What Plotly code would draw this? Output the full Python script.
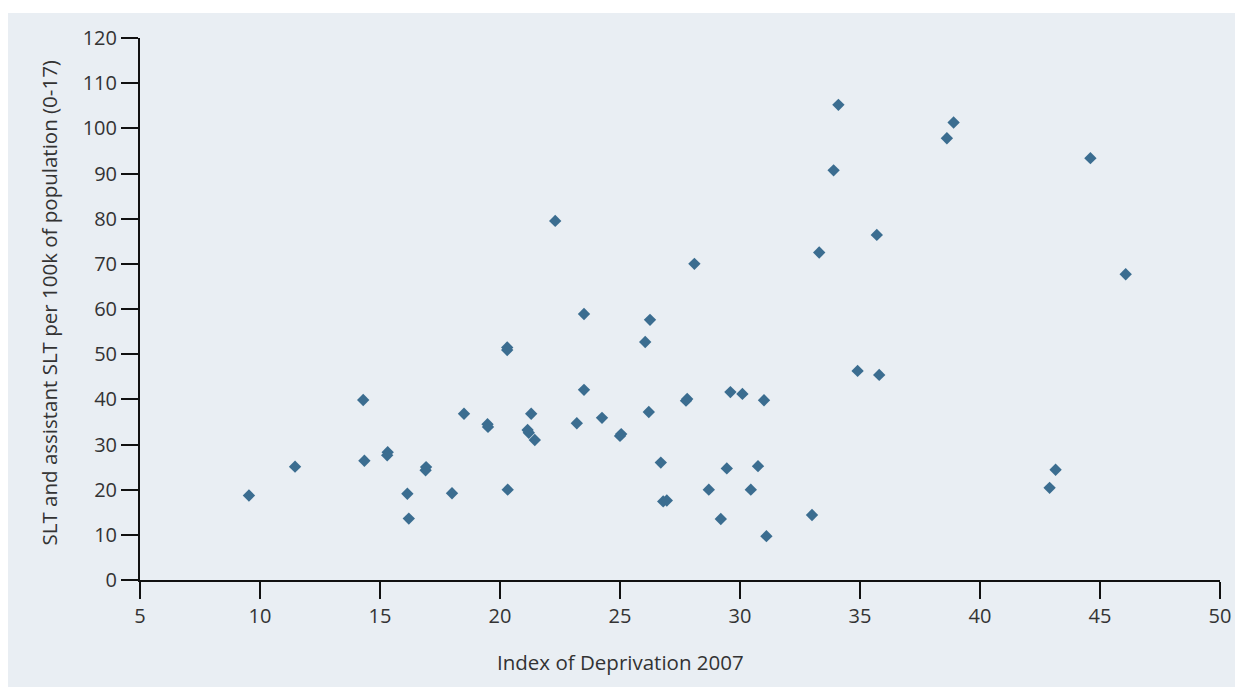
import plotly.graph_objects as go

# Index of Deprivation 2007 (x) and SLT + assistant SLT per 100k of population 0-17 (y)
deprivation = [9.54, 11.46, 14.3, 14.35, 15.32, 15.3, 16.14, 16.2, 16.9, 16.92,
               18.0, 18.5, 19.5, 19.48, 20.3, 20.3, 20.32, 21.2, 21.3, 21.45, 21.15,
               22.3, 23.2, 23.5, 23.5, 24.25, 25.0, 25.05, 26.05, 26.25, 26.2,
               26.7, 26.8, 26.95, 27.8, 27.75, 28.1, 28.7, 29.2, 29.45, 29.6,
               30.1, 30.45, 30.75, 31.0, 31.1, 33.0, 33.3, 33.9, 34.1, 34.9,
               35.7, 35.8, 38.62, 38.9, 42.9, 43.15, 44.6, 46.07]
slt_rate = [18.7, 25.1, 39.85, 26.4, 28.3, 27.6, 19.1, 13.6, 24.3, 25.0,
            19.2, 36.8, 33.9, 34.5, 51.5, 50.9, 20.0, 32.6, 36.8, 31.0, 33.2,
            79.5, 34.7, 58.9, 42.1, 35.9, 31.9, 32.3, 52.7, 57.6, 37.2,
            26.0, 17.4, 17.6, 40.1, 39.7, 70.0, 20.0, 13.5, 24.7, 41.6,
            41.2, 20.0, 25.2, 39.8, 9.7, 14.4, 72.5, 90.7, 105.2, 46.3,
            76.4, 45.4, 97.8, 101.3, 20.4, 24.4, 93.4, 67.7]

x_ticks = [5, 10, 15, 20, 25, 30, 35, 40, 45, 50]
y_ticks = [0, 10, 20, 30, 40, 50, 60, 70, 80, 90, 100, 110, 120]

x_title = "Index of Deprivation 2007"
y_title = "SLT and assistant SLT per 100k of population (0-17)"

FONT = "Open Sans, Noto Sans, sans-serif"
TXT = "#333333"
BG = "#e9eef3"
W, H = 1235, 687
L, R, T, B = 140, 15, 38, 107
pw, ph = W - L - R, H - T - B


def px_to_paper_x(px):
    return (px - L) / pw


def px_to_paper_y(py):
    return (T + ph - py) / ph


fig = go.Figure()
fig.add_trace(go.Scatter(
    x=deprivation, y=slt_rate, mode="markers",
    marker=dict(symbol="diamond", size=9.5, color="#3b6d90", line=dict(width=0)),
    hoverinfo="x+y", showlegend=False,
))

# grey panel behind the chart
fig.add_shape(type="rect", xref="paper", yref="paper", layer="below",
              x0=px_to_paper_x(8), x1=px_to_paper_x(W + 5),
              y0=px_to_paper_y(H + 5), y1=px_to_paper_y(13),
              fillcolor=BG, line=dict(width=0))

axis_common = dict(
    showgrid=False, zeroline=False, showline=True, linecolor="#111111", linewidth=2,
    ticks="outside", ticklen=17, tickwidth=2, tickcolor="#111111",
    tickfont=dict(family=FONT, size=20, color=TXT), automargin=False,
)

fig.update_xaxes(range=[5, 50], tickvals=x_ticks, ticktext=[str(v) for v in x_ticks], **axis_common)
fig.update_yaxes(range=[0, 120], tickvals=y_ticks, ticktext=[str(v) for v in y_ticks], **axis_common)

fig.add_annotation(text=x_title, xref="paper", yref="paper",
                   x=px_to_paper_x(620), y=px_to_paper_y(662),
                   xanchor="center", yanchor="middle", showarrow=False,
                   font=dict(family=FONT, size=20.5, color=TXT))
fig.add_annotation(text=y_title, xref="paper", yref="paper", textangle=-90,
                   x=px_to_paper_x(48), y=px_to_paper_y(303.5),
                   xanchor="center", yanchor="middle", showarrow=False,
                   font=dict(family=FONT, size=20.5, color=TXT))

fig.update_layout(
    width=W, height=H,
    margin=dict(l=L, r=R, t=T, b=B, pad=0, autoexpand=False),
    paper_bgcolor="white", plot_bgcolor="rgba(0,0,0,0)",
    font=dict(family=FONT),
)

fig.write_html("out.html", config={"displayModeBar": False},
               post_script="document.body.style.margin='0';document.body.style.overflow='hidden';")
